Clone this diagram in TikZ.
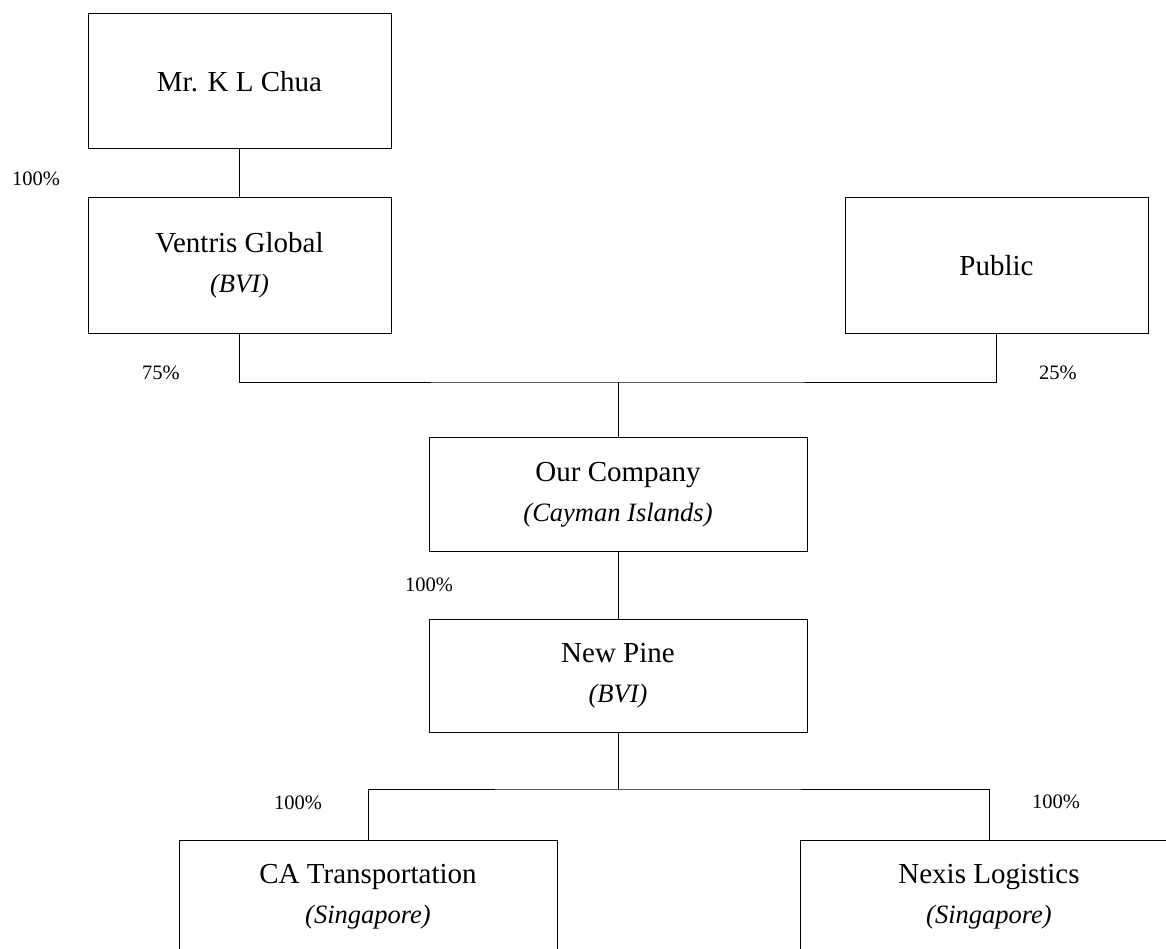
\documentclass[tikz,border=0pt]{standalone}
\usepackage{fontspec}
\setmainfont{Liberation Serif}
\usetikzlibrary{positioning}

\newcommand{\place}[1]{{\fontsize{26.5}{40}\selectfont\itshape #1}}

\begin{document}
\begin{tikzpicture}[
    x=1pt, y=1pt,
    node distance = 48pt,
    holder/.style={
        draw, rectangle, line width=1pt, align=center, inner sep=0pt,
        minimum width=303pt, minimum height=135pt,
        font=\fontsize{29}{40}\selectfont
    },
    sub/.style={
        holder, minimum width=378pt, minimum height=113.5pt
    },
    pct/.style={
        inner sep=0pt, font=\fontsize{20.5}{24}\selectfont
    },
    link/.style={
        line width=1pt
    },
]
    \useasboundingbox (0,0) rectangle (1166,-949);

    \node[holder] (chua) at (239.5,-81.5) {Mr. K L Chua};
    \node[holder,below=of chua] (ventris) {Ventris Global\\\place{(BVI)}};
    \node[holder,right=453pt of ventris] (public) {Public};
    \node[sub] (ourco) at (618,-494.5) {Our Company\\\place{(Cayman Islands)}};
    \node[sub,below=67pt of ourco] (newpine) {New Pine\\\place{(BVI)}};
    \node[sub] (ca) at (368,-897) {CA Transportation\\\place{(Singapore)}};
    \node[sub] (nexis) at (989,-897) {Nexis Logistics\\\place{(Singapore)}};

    \coordinate (bus) at (618,-382);
    \coordinate (split) at (618,-789);

    \draw[link] (chua) -- (ventris);
    \draw[link] (ventris.south) |- (bus) -| (public.south);
    \draw[link] (bus) -- (ourco);
    \draw[link] (ourco) -- (newpine);
    \draw[link] (newpine) -- (split);
    \draw[link] (ca.north) |- (split) -| (nexis.north);

    % shareholdings
    \node[pct] (s1) at (36,-179) {100\%};
    \node[pct] (s2) at (161,-373) {75\%};
    \node[pct] (s3) at (1058,-373) {25\%};
    \node[pct] (s4) at (429,-585) {100\%};
    \node[pct] (s5) at (298,-803) {100\%};
    \node[pct] (s6) at (1056,-802) {100\%};

\end{tikzpicture}
\end{document}
